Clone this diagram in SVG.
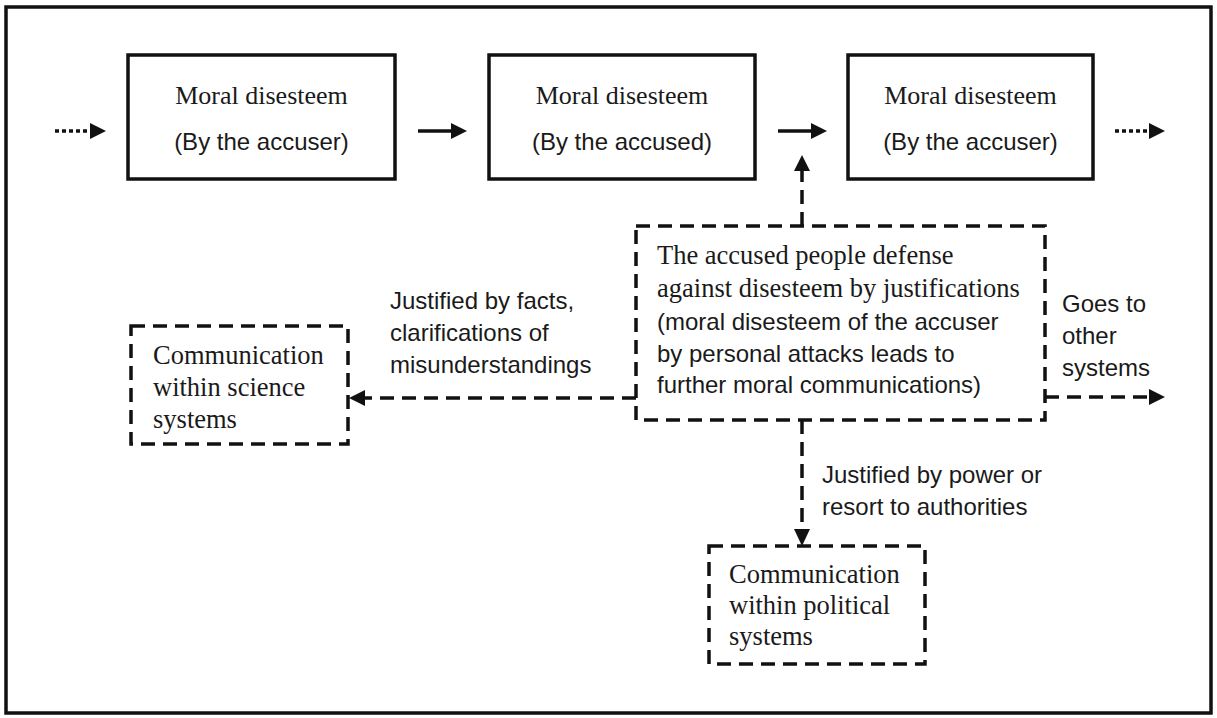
<svg xmlns="http://www.w3.org/2000/svg" width="1217" height="718" viewBox="0 0 1217 718">
<style>
.frame{fill:#fff;stroke:#111;stroke-width:3.5}
.solid{fill:#fff;stroke:#111;stroke-width:3.5}
.dash{fill:none;stroke:#111;stroke-width:3.5;stroke-dasharray:14 8}
.dot{fill:none;stroke:#111;stroke-width:3.5;stroke-dasharray:4 3}
.line{fill:none;stroke:#111;stroke-width:3.5}
.serif{font-family:"Liberation Serif","Times New Roman",serif;font-size:26px;fill:#1a1a1a}
.serif2{font-family:"Liberation Serif","Times New Roman",serif;font-size:26.5px;fill:#1a1a1a}
.sans{font-family:"Liberation Sans",Arial,sans-serif;font-size:24px;fill:#1a1a1a}
.head{fill:#111}
</style>
<rect x="0" y="0" width="1217" height="718" fill="#fff"/>
<rect class="frame" x="6" y="7" width="1205" height="706"/>

<g id="box1">
<rect class="solid" x="128" y="55" width="267" height="124"/>
<text class="serif" x="261.5" y="104" text-anchor="middle">Moral disesteem</text>
<text class="sans" x="261.5" y="150" text-anchor="middle">(By the accuser)</text>
</g>
<g id="box2">
<rect class="solid" x="489" y="55" width="266" height="124"/>
<text class="serif" x="622" y="104" text-anchor="middle">Moral disesteem</text>
<text class="sans" x="622" y="150" text-anchor="middle">(By the accused)</text>
</g>
<g id="box3">
<rect class="solid" x="848" y="55" width="245" height="124"/>
<text class="serif" x="970.5" y="104" text-anchor="middle">Moral disesteem</text>
<text class="sans" x="970.5" y="150" text-anchor="middle">(By the accuser)</text>
</g>

<g id="defense">
<rect class="dash" x="636" y="226" width="409" height="194"/>
<text class="serif2" x="657" y="264">The accused people defense</text>
<text class="serif2" x="657" y="297">against disesteem by justifications</text>
<text class="sans" x="657" y="330">(moral disesteem of the accuser</text>
<text class="sans" x="657" y="362">by personal attacks leads to</text>
<text class="sans" x="657" y="393">further moral communications)</text>
</g>

<g id="science">
<rect class="dash" x="131" y="326" width="217" height="118"/>
<text class="serif2" x="153" y="364">Communication</text>
<text class="serif2" x="153" y="396">within science</text>
<text class="serif2" x="153" y="428">systems</text>
</g>

<g id="political">
<rect class="dash" x="709" y="546" width="216" height="118"/>
<text class="serif2" x="729" y="583">Communication</text>
<text class="serif2" x="729" y="614">within political</text>
<text class="serif2" x="729" y="645">systems</text>
</g>

<g id="connectors">
<line class="dot" x1="55" y1="131" x2="90" y2="131"/>
<polygon class="head" points="90,123 106,131 90,139"/>
<line class="line" x1="418" y1="131" x2="452" y2="131"/>
<polygon class="head" points="451,123 467,131 451,139"/>
<line class="line" x1="778" y1="131" x2="812" y2="131"/>
<polygon class="head" points="811,123 827,131 811,139"/>
<line class="dot" x1="1115" y1="131" x2="1149" y2="131"/>
<polygon class="head" points="1149,123 1165,131 1149,139"/>

<line class="dash" x1="802" y1="226" x2="802" y2="170"/>
<polygon class="head" points="794,171 802,155 810,171"/>

<line class="dash" x1="636" y1="398" x2="364" y2="398"/>
<polygon class="head" points="365,390 349,398 365,406"/>

<line class="dash" x1="1045" y1="397" x2="1150" y2="397"/>
<polygon class="head" points="1149,389 1165,397 1149,405"/>

<line class="dash" x1="802" y1="420" x2="802" y2="530"/>
<polygon class="head" points="794,529 802,546 810,529"/>

<text class="sans" x="390" y="309">Justified by facts,</text>
<text class="sans" x="390" y="341">clarifications of</text>
<text class="sans" x="390" y="373">misunderstandings</text>

<text class="sans" x="1062" y="312">Goes to</text>
<text class="sans" x="1062" y="344">other</text>
<text class="sans" x="1062" y="376">systems</text>

<text class="sans" x="822" y="483">Justified by power or</text>
<text class="sans" x="822" y="515">resort to authorities</text>
</g>
</svg>
